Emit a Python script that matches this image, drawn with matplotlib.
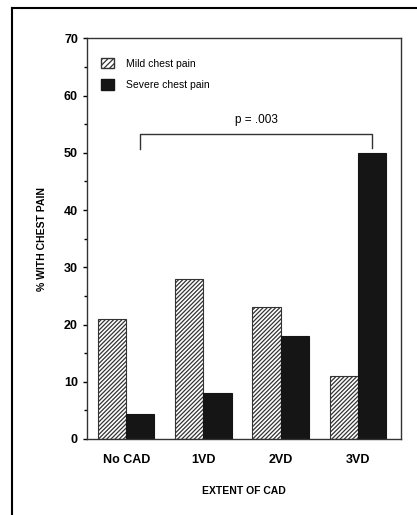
import numpy as np
import matplotlib
matplotlib.use("Agg")
import matplotlib.pyplot as plt
from matplotlib.lines import Line2D
from matplotlib.patches import Patch

plt.rcParams['font.family'] = ['Liberation Sans', 'DejaVu Sans']
plt.rcParams['hatch.color'] = '#666666'
plt.rcParams['hatch.linewidth'] = 0.9

# extent of coronary disease
groups = ['No CAD', '1VD', '2VD', '3VD']
mild = [21, 28, 23, 11]
severe = [4.3, 8, 18, 50]
p_text = 'p = .003'

fig = plt.figure(figsize=(4.17, 5.15), dpi=100)
ax = fig.add_axes([0.2086, 0.1476, 0.753, 0.778])

x = np.arange(len(groups))
w = 0.365
ax.bar(x - w / 2, mild, w, color='white', edgecolor='#333333', hatch='////////', linewidth=0.8)
ax.bar(x + w / 2, severe, w, color='#151515', edgecolor='#151515', linewidth=0.8)

ax.set_xlim(-0.51, 3.56)
ax.set_ylim(0, 70)
ax.set_yticks(np.arange(0, 71, 10))
ax.set_yticks(np.arange(5, 70, 10), minor=True)
ax.tick_params(axis='y', which='major', direction='out', length=3, width=1, labelsize=9)
ax.tick_params(axis='y', which='minor', direction='out', length=2, width=1)
ax.set_xticks(x)
ax.set_xticklabels(groups)
ax.tick_params(axis='x', length=0, pad=11, labelsize=9)
for lab in ax.get_xticklabels() + ax.get_yticklabels():
    lab.set_fontweight('bold')
for s in ax.spines.values():
    s.set_linewidth(1.0)
    s.set_color('#333333')

ax.set_ylabel('% WITH CHEST PAIN', fontsize=7.5, fontweight='bold', labelpad=12)
ax.set_xlabel('EXTENT OF CAD', fontsize=7.5, fontweight='bold', labelpad=14)

# significance bracket between no CAD and 3VD severe pain
x0 = x[0] + w / 2
x1 = x[3] + w / 2
ax.plot([x0, x0, x1, x1], [50.6, 53.3, 53.3, 50.8], color='#333333', lw=1.0)
ax.text((x0 + x1) / 2, 54.6, p_text, ha='center', va='bottom', fontsize=8.5)

handles = [Patch(facecolor='white', edgecolor='#333333', hatch='//////'),
           Patch(facecolor='#151515', edgecolor='#151515')]
ax.legend(handles, ['Mild chest pain', 'Severe chest pain'], loc='upper left',
          bbox_to_anchor=(0.015, 0.975), frameon=False, fontsize=7.5,
          handlelength=1.2, handleheight=1.2, handletextpad=1.2, labelspacing=1.0)

# outer frame (top and left edges)
fig.add_artist(Line2D([12 / 417, 12 / 417], [0, 1 - 8 / 515], color='black', lw=1.5))
fig.add_artist(Line2D([12 / 417, 1], [1 - 8 / 515, 1 - 8 / 515], color='black', lw=1.5))

fig.savefig('out.png', dpi=100)
